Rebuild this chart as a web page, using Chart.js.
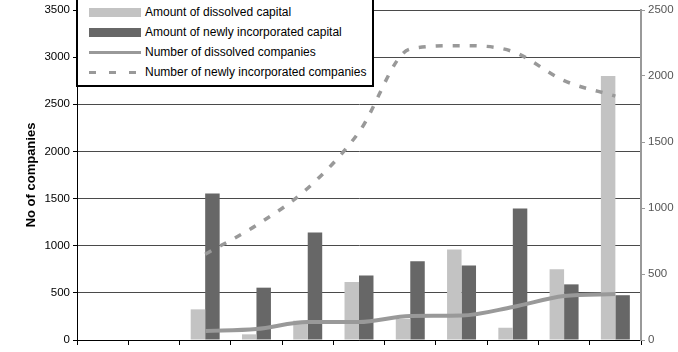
<!DOCTYPE html>
<html>
<head>
<meta charset="utf-8">
<script src="https://cdn.jsdelivr.net/npm/chart.js@4/dist/chart.umd.min.js"></script>
<style>
  html, body { margin: 0; padding: 0; background: #fff; }
  #wrap { position: relative; width: 678px; height: 352px; overflow: hidden; }
  #legend {
    position: absolute; left: 76px; top: -2px; width: 294px; height: 85px;
    border: 2px solid #000; background: #fff;
    font-family: "Liberation Sans", Arial, sans-serif; font-size: 12px; color: #000;
  }
  .item { position: absolute; left: 0; height: 20px; width: 290px; }
  .sw { position: absolute; left: 11px; width: 52px; }
  .txt { position: absolute; left: 67px; top: 3px; white-space: nowrap; }
</style>
</head>
<body>
<div id="wrap">
  <canvas id="c" width="678" height="352"></canvas>
  <div id="legend"></div>
</div>
<script>
// ---- data ----
const categories = ['1', '2', '3', '4', '5', '6', '7', '8', '9', '10', '11'];
const dissolvedCapital = [null, null, 325, 60, 205, 615, 225, 960, 130, 750, 2800];
const incorporatedCapital = [null, null, 1555, 555, 1140, 685, 835, 790, 1395, 590, 475];
const dissolvedCompanies = [null, null, 68, 83, 136, 136, 182, 185, 250, 333, 348];
const incorporatedCompanies = [null, null, 650, 870, 1150, 1575, 2205, 2230, 2185, 1965, 1848];
const leftTicks = [0, 500, 1000, 1500, 2000, 2500, 3000, 3500];
const rightTicks = [0, 500, 1000, 1500, 2000, 2500];
const seriesNames = ['Amount of dissolved capital', 'Amount of newly incorporated capital',
                     'Number of dissolved companies', 'Number of newly incorporated companies'];

const LIGHT = '#c3c3c3', DARK = '#676767', LINE = '#999999';
const FONT = '"Liberation Sans", Arial, sans-serif';

// ---- HTML legend ----
const legend = document.getElementById('legend');
const rows = [
  '<div class="sw" style="top:6px;height:9px;background:' + LIGHT + '"></div>',
  '<div class="sw" style="top:6px;height:9px;background:' + DARK + '"></div>',
  '<div class="sw" style="top:9px;height:3px;background:' + LINE + '"></div>',
  '<div class="sw" style="top:9px;height:3px;background:repeating-linear-gradient(to right,' + LINE + ' 0 7px, transparent 7px 20px)"></div>'
];
seriesNames.forEach((n, i) => {
  const d = document.createElement('div');
  d.className = 'item';
  d.style.top = (2 + i * 20) + 'px';
  d.innerHTML = rows[i] + '<span class="txt">' + n + '</span>';
  legend.appendChild(d);
});

new Chart(document.getElementById('c'), {
  data: {
    labels: categories,
    datasets: [
      { type: 'bar', label: seriesNames[0], data: dissolvedCapital, backgroundColor: LIGHT, yAxisID: 'y', order: 2,
        barPercentage: 1, categoryPercentage: 0.565 },
      { type: 'bar', label: seriesNames[1], data: incorporatedCapital, backgroundColor: DARK, yAxisID: 'y', order: 2,
        barPercentage: 1, categoryPercentage: 0.565 },
      { type: 'line', label: seriesNames[2], data: dissolvedCompanies, borderColor: LINE, borderWidth: 4,
        pointRadius: 0, cubicInterpolationMode: 'monotone', yAxisID: 'y1', order: 1 },
      { type: 'line', label: seriesNames[3], data: incorporatedCompanies, borderColor: LINE, borderWidth: 3.5,
        borderDash: [7, 10], pointRadius: 0, cubicInterpolationMode: 'monotone', yAxisID: 'y1', order: 1 }
    ]
  },
  options: {
    responsive: false,
    animation: false,
    layout: { padding: { top: 10, left: 0, right: 0, bottom: 0 } },
    plugins: { legend: { display: false }, tooltip: { enabled: false } },
    scales: {
      x: {
        type: 'category',
        offset: true,
        ticks: { display: false },
        grid: { display: true, drawOnChartArea: false, drawTicks: true, tickLength: 5, color: '#000', offset: true },
        border: { display: true, color: '#000', width: 1 },
        afterFit: s => { s.height = 12; }
      },
      y: {
        position: 'left',
        min: 0, max: 3500,
        afterBuildTicks: s => { s.ticks = leftTicks.map(v => ({ value: v })); },
        ticks: { color: '#000', font: { family: FONT, size: 11.5 }, padding: 3, callback: v => String(v) },
        grid: { color: '#4a4a4a', lineWidth: 1, tickLength: 4, tickColor: '#000' },
        border: { display: true, color: '#000', width: 1 },
        title: { display: true, text: 'No of companies', color: '#000',
                 font: { family: FONT, size: 13, weight: 'bold' }, padding: { top: 24, bottom: 0 } },
        afterFit: s => { s.width = 77; }
      },
      y1: {
        position: 'right',
        min: 0, max: 2500,
        afterBuildTicks: s => { s.ticks = rightTicks.map(v => ({ value: v })); },
        ticks: { color: '#555', font: { family: FONT, size: 11.5 }, padding: 3, callback: v => String(v) },
        grid: { drawOnChartArea: false, tickLength: 4, tickColor: '#999', color: '#999' },
        border: { display: true, color: '#999', width: 2 },
        afterFit: s => { s.width = 37; }
      }
    }
  }
});
</script>
</body>
</html>
